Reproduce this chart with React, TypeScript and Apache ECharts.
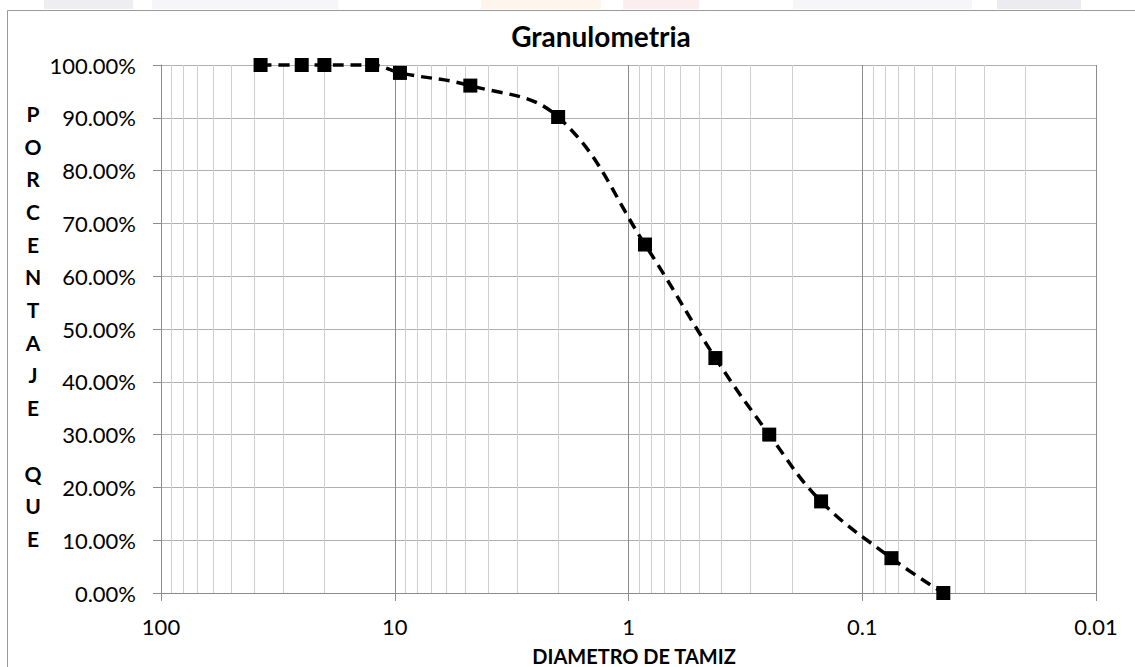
import React, { useEffect, useRef } from "react";
import * as echarts from "echarts";

// Sieve opening (mm) and percentage passing
const sieveSizes = [37.5, 25, 20, 12.5, 9.5, 4.75, 2.0, 0.85, 0.425, 0.25, 0.15, 0.075, 0.045];
const percentPassing = [100, 100, 100, 100, 98.5, 96.1, 90.15, 66.0, 44.5, 30.0, 17.35, 6.6, 0.0];

const decades = [0.01, 0.1, 1, 10];
const minorMultipliers = [2, 3, 4, 5, 6, 7, 8, 9];

const chartTitle = "Granulometria";
const yAxisTitleLetters = ["P", "O", "R", "C", "E", "N", "T", "A", "J", "E", "", "Q", "U", "E"];
const xAxisTitle = "DIAMETRO DE TAMIZ";

const FONT = "Lato, 'Open Sans', sans-serif";

export default function App() {
  const ref = useRef<HTMLDivElement>(null);

  useEffect(() => {
    if (!ref.current) return;
    const chart = echarts.init(ref.current, null, { renderer: "svg" });

    const minorLines = decades.flatMap((d) =>
      minorMultipliers.map((k) => ({ xAxis: parseFloat((k * d).toPrecision(4)) }))
    );

    const option: any = {
      animation: false,
      backgroundColor: "#ffffff",
      grid: { left: 161, top: 65, right: 39, bottom: 74, containLabel: false },
      xAxis: {
        type: "log",
        logBase: 10,
        min: 0.01,
        max: 100,
        inverse: true,
        axisLine: { show: true, lineStyle: { color: "#8c8c8c", width: 1 } },
        axisTick: { show: true, length: 8, lineStyle: { color: "#8c8c8c" } },
        axisLabel: {
          fontFamily: FONT,
          fontSize: 22,
          color: "#000",
          margin: 22,
          formatter: (v: number) => String(parseFloat(Number(v).toPrecision(3))),
        },
        splitLine: { show: true, lineStyle: { color: "#8c8c8c", width: 1 } },
      },
      yAxis: {
        type: "value",
        min: 0,
        max: 100,
        interval: 10,
        axisLine: { show: true, lineStyle: { color: "#8c8c8c", width: 1 } },
        axisTick: { show: true, length: 8, lineStyle: { color: "#8c8c8c" } },
        axisLabel: {
          fontFamily: FONT,
          fontSize: 22,
          color: "#000",
          margin: 25,
          formatter: (v: number) => v.toFixed(2) + "%",
        },
        splitLine: { show: true, lineStyle: { color: "#b0b0b0", width: 1 } },
      },
      graphic: [
        { type: "rect", shape: { x: 44, y: 0, width: 89, height: 9 }, style: { fill: "#eeeef2" }, silent: true },
        { type: "rect", shape: { x: 152, y: 0, width: 186, height: 9 }, style: { fill: "#f6f6f8" }, silent: true },
        { type: "rect", shape: { x: 481, y: 0, width: 120, height: 9 }, style: { fill: "#fef5ec" }, silent: true },
        { type: "rect", shape: { x: 623, y: 0, width: 76, height: 9 }, style: { fill: "#fceeee" }, silent: true },
        { type: "rect", shape: { x: 793, y: 0, width: 179, height: 9 }, style: { fill: "#f6f6f8" }, silent: true },
        { type: "rect", shape: { x: 997, y: 0, width: 84, height: 9 }, style: { fill: "#ececf0" }, silent: true },
        {
          type: "rect",
          shape: { x: 7.5, y: 10.5, width: 1200, height: 700 },
          style: { fill: "none", stroke: "#9a9a9a", lineWidth: 1 },
          silent: true,
          z: -1,
        },
        {
          type: "text",
          x: 601,
          y: 36,
          style: {
            text: chartTitle,
            fontFamily: FONT,
            fontSize: 28,
            fontWeight: "bold",
            fill: "#000",
            textAlign: "center",
            textVerticalAlign: "middle",
          },
        },
        {
          type: "text",
          x: 33,
          y: 97,
          style: {
            text: yAxisTitleLetters.join("\n"),
            fontFamily: FONT,
            fontSize: 21,
            fontWeight: "bold",
            lineHeight: 32.7,
            fill: "#000",
            textAlign: "center",
            textVerticalAlign: "top",
          },
        },
        {
          type: "text",
          x: 634,
          y: 656,
          style: {
            text: xAxisTitle,
            fontFamily: FONT,
            fontSize: 20,
            fontWeight: "bold",
            fill: "#000",
            textAlign: "center",
            textVerticalAlign: "middle",
          },
        },
      ],
      series: [
        {
          name: "minor",
          type: "line",
          data: [],
          z: 1,
          silent: true,
          markLine: {
            silent: true,
            symbol: ["none", "none"],
            label: { show: false },
            lineStyle: { color: "#cfcfcf", width: 1, type: "solid" },
            emphasis: { disabled: true },
            data: minorLines,
          },
        },
        {
          name: "Granulometria",
          type: "line",
          data: sieveSizes.map((s, i) => [s, percentPassing[i]]),
          smooth: 0.4,
          symbol: "rect",
          symbolSize: 14,
          clip: false,
          z: 5,
          itemStyle: { color: "#000" },
          lineStyle: { color: "#000", width: 3.5, type: [11, 7] },
        },
      ],
    };

    chart.setOption(option);
    return () => chart.dispose();
  }, []);

  return (
    <div
      ref={ref}
      style={{ position: "absolute", left: 0, top: 0, width: 1135, height: 667 }}
    />
  );
}
